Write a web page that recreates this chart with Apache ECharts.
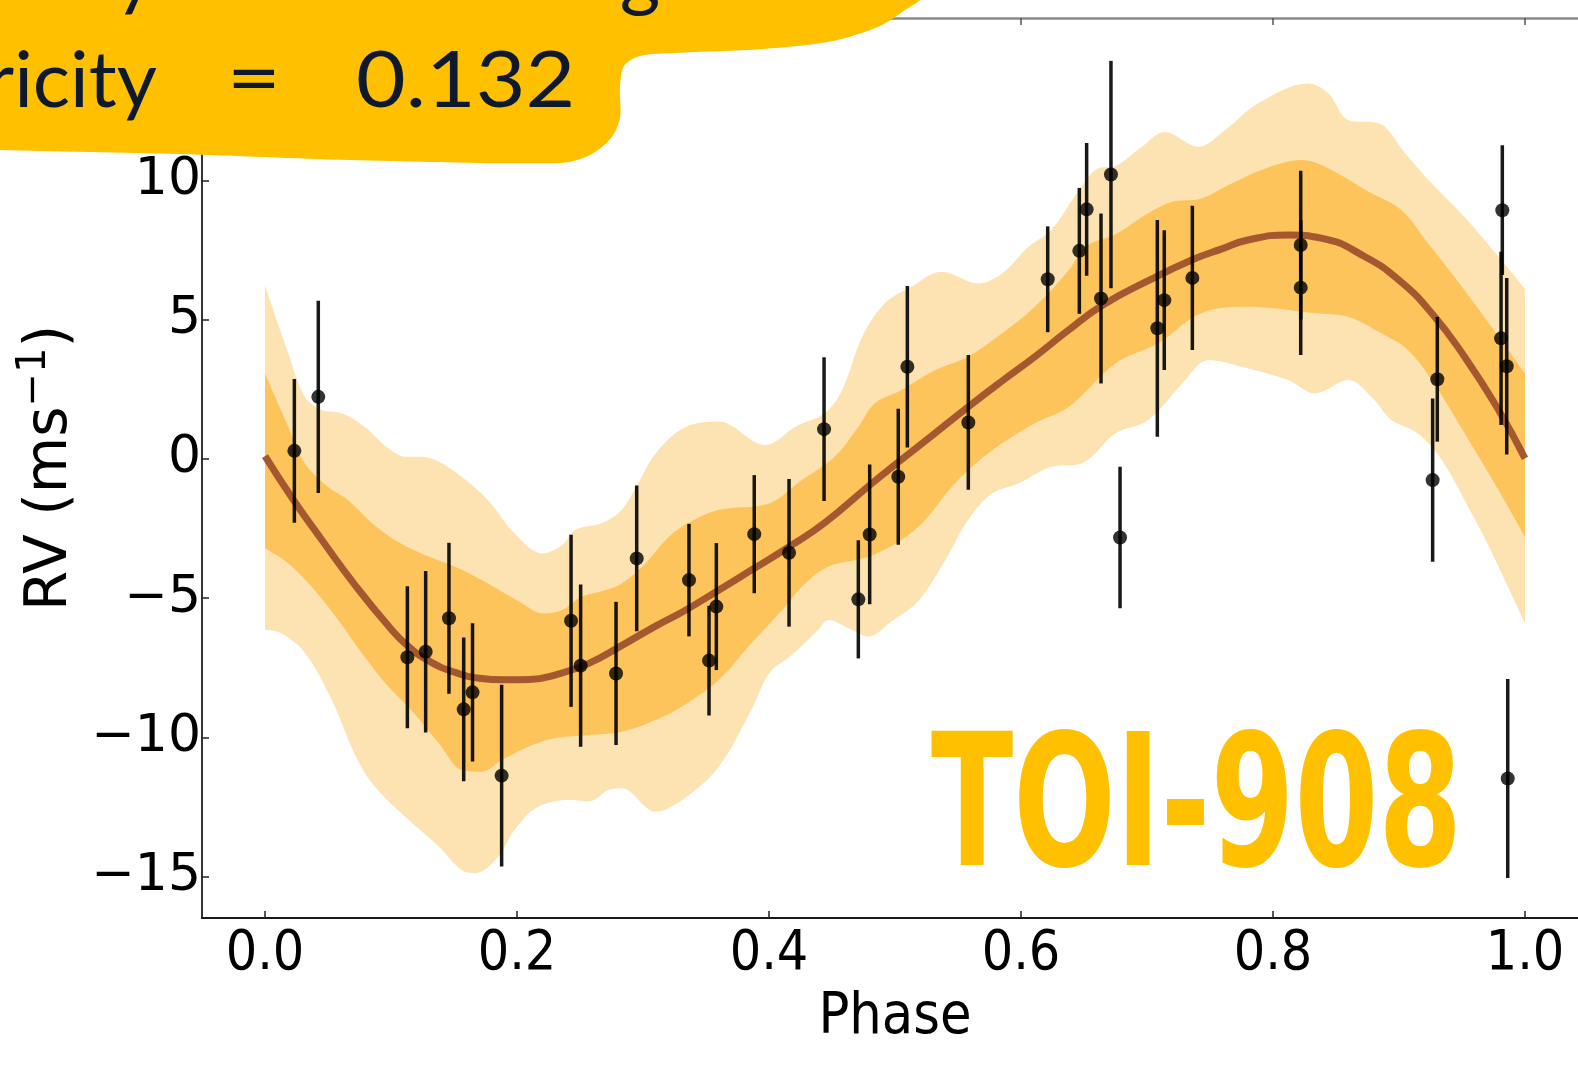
<!DOCTYPE html>
<html>
<head>
<meta charset="utf-8">
<script src="https://cdn.jsdelivr.net/npm/echarts@6/dist/echarts.min.js"></script>
<style>
html,body{margin:0;padding:0;background:#fff;overflow:hidden}
#chart{width:1578px;height:1079px}
</style>
</head>
<body>
<div id="chart"></div>
<script>
// ---------- data ----------
const phase = [0.0233,0.0423,0.113,0.1275,0.146,0.1577,0.1647,0.1878,0.2429,0.2505,0.2786,0.295,0.3365,0.3524,0.3582,0.3883,0.4159,0.4437,0.4709,0.4799,0.5026,0.5098,0.5582,0.6212,0.6463,0.6521,0.6635,0.6714,0.6786,0.7082,0.7137,0.736,0.822,0.822,0.9267,0.9304,0.982,0.981,0.9855,0.9863];
const rv = [0.29,2.23,-7.12,-6.92,-5.72,-8.99,-8.38,-11.37,-5.81,-7.42,-7.7,-3.57,-4.35,-7.24,-5.3,-2.7,-3.37,1.07,-5.04,-2.71,-0.64,3.31,1.31,6.45,7.47,8.96,5.76,10.21,-2.82,4.69,5.7,6.5,7.68,6.15,-0.76,2.86,8.93,4.33,3.33,-11.47];
const rvErr = [2.58,3.45,2.55,2.9,2.71,2.58,2.48,3.26,3.09,2.91,2.57,2.62,2.02,1.97,2.28,2.12,2.65,2.58,2.12,2.51,2.44,2.9,2.42,1.9,2.26,2.38,3.05,4.08,2.54,3.89,2.51,2.59,2.67,2.42,2.93,2.24,2.33,3.11,3.17,3.57];

const modelCurve = [[0,0.1],[0.023,-1.5],[0.045,-2.9],[0.071,-4.5],[0.098,-6.0],[0.113,-6.7],[0.13,-7.25],[0.15,-7.65],[0.17,-7.87],[0.19,-7.93],[0.21,-7.92],[0.23,-7.76],[0.257,-7.34],[0.283,-6.7],[0.31,-6.0],[0.333,-5.45],[0.36,-4.71],[0.386,-3.99],[0.416,-3.15],[0.444,-2.3],[0.48,-0.94],[0.503,-0.1],[0.53,0.86],[0.559,1.9],[0.585,2.8],[0.611,3.67],[0.637,4.6],[0.664,5.5],[0.701,6.4],[0.736,7.15],[0.76,7.55],[0.78,7.86],[0.812,8.04],[0.839,7.92],[0.873,7.26],[0.9,6.42],[0.926,5.23],[0.952,3.67],[0.979,1.76],[1.0,0.02]];

const band2Upper = [[0,6.24],[0.0185,3.79],[0.0317,2.23],[0.045,1.76],[0.061,1.64],[0.079,1.16],[0.098,0.38],[0.111,0.08],[0.124,0.08],[0.138,-0.1],[0.156,-0.64],[0.177,-1.48],[0.198,-2.67],[0.22,-3.39],[0.236,-3.09],[0.246,-2.55],[0.267,-2.31],[0.283,-1.83],[0.296,-0.88],[0.31,0.2],[0.333,1.13],[0.36,1.34],[0.397,0.5],[0.421,1.16],[0.444,1.64],[0.458,2.47],[0.474,4.39],[0.492,5.59],[0.513,6.18],[0.537,6.72],[0.566,6.3],[0.585,6.66],[0.606,7.62],[0.624,8.22],[0.646,9.65],[0.661,10.43],[0.675,10.52],[0.696,11.21],[0.714,11.74],[0.741,11.21],[0.762,11.81],[0.788,12.76],[0.828,13.48],[0.844,13.12],[0.86,12.16],[0.884,12.05],[0.905,10.97],[0.926,9.89],[0.952,8.69],[0.979,7.26],[1.0,6.1]];
const band1Upper = [[0,3.07],[0.0185,1.16],[0.0317,-0.16],[0.05,-1.0],[0.066,-1.48],[0.085,-2.31],[0.103,-2.91],[0.124,-3.39],[0.151,-3.87],[0.177,-4.47],[0.204,-5.18],[0.22,-5.54],[0.236,-5.42],[0.251,-4.95],[0.27,-4.71],[0.283,-4.47],[0.302,-3.75],[0.318,-2.91],[0.333,-2.37],[0.36,-1.83],[0.4,-1.6],[0.426,-0.76],[0.452,0.08],[0.471,1.16],[0.484,2.0],[0.505,2.47],[0.532,3.19],[0.558,3.67],[0.585,4.51],[0.611,5.46],[0.638,6.78],[0.651,7.62],[0.675,8.07],[0.701,8.82],[0.72,9.23],[0.743,9.35],[0.767,9.89],[0.794,10.43],[0.823,10.73],[0.844,10.43],[0.876,9.59],[0.902,8.93],[0.923,7.74],[0.952,6.06],[0.979,4.39],[1.0,3.07]];
const band1Lower = [[0,-3.21],[0.0185,-3.75],[0.037,-4.59],[0.058,-5.78],[0.079,-7.1],[0.098,-8.18],[0.116,-9.01],[0.138,-10.21],[0.156,-11.17],[0.172,-11.23],[0.188,-10.81],[0.209,-10.33],[0.23,-10.03],[0.257,-9.91],[0.283,-9.79],[0.31,-9.37],[0.333,-8.83],[0.36,-7.94],[0.386,-6.62],[0.413,-5.3],[0.426,-4.59],[0.447,-3.87],[0.479,-3.51],[0.505,-2.91],[0.524,-2.19],[0.545,-1.0],[0.564,-0.16],[0.585,0.56],[0.611,1.28],[0.638,1.87],[0.675,3.43],[0.709,4.15],[0.743,5.23],[0.78,5.46],[0.833,5.23],[0.86,5.1],[0.886,4.51],[0.907,3.91],[0.926,2.83],[0.952,0.92],[0.979,-1.12],[1.0,-2.8]];
const band2Lower = [[0,-6.14],[0.013,-6.26],[0.032,-6.98],[0.053,-8.65],[0.071,-10.57],[0.085,-11.64],[0.111,-12.84],[0.138,-13.92],[0.156,-14.76],[0.167,-14.87],[0.185,-14.28],[0.198,-13.32],[0.217,-12.48],[0.243,-12.24],[0.257,-12.3],[0.273,-11.88],[0.283,-11.82],[0.31,-12.66],[0.333,-12.18],[0.36,-11.05],[0.386,-9.01],[0.4,-7.7],[0.418,-7.04],[0.439,-6.14],[0.447,-5.78],[0.466,-6.14],[0.479,-6.38],[0.497,-5.84],[0.519,-5.07],[0.54,-3.63],[0.558,-2.19],[0.577,-1.24],[0.598,-0.88],[0.624,-0.28],[0.648,-0.16],[0.675,0.92],[0.701,1.4],[0.728,2.71],[0.749,3.55],[0.775,3.31],[0.812,2.83],[0.833,2.35],[0.86,2.83],[0.878,2.23],[0.894,1.4],[0.913,0.98],[0.926,0.44],[0.939,-0.4],[0.952,-1.48],[0.966,-2.67],[0.979,-3.87],[1.0,-5.9]];

const xTicks = [0, 0.2, 0.4, 0.6, 0.8, 1.0];
const yTicks = [-15, -10, -5, 0, 5, 10];
const targetName = 'TOI-908';
const eccLabel = 'Eccentricity';
const eccValue = '0.132';

// ---------- chart ----------
const LIGHT = '#FDE3B2', DARK = '#FDC45C', CURVE = '#A0522D', YEL = '#FFC000', INK = '#0E1A2B';
const chart = echarts.init(document.getElementById('chart'), null, {renderer: 'canvas'});

function bandSeries(data, color) {
  return {
    type: 'line', data: data, smooth: 0.35, symbol: 'none', silent: true,
    lineStyle: {width: 0}, areaStyle: {color: color, opacity: 1, origin: 'start'}, z: 1
  };
}
const minus = v => v < 0 ? '\u2212' + Math.abs(v) : String(v);

// decorative banner outline (screen pixels)
const bannerPts = [[-80,-80],[960,-80],[925,-5],[905,10],[880,26],[833,41],[763,49],[675,53],[640,56],[624,66],[620,88],[620,118],[611,138],[590,155],[560,163],[350,160],[180,154],[0,150],[-80,148]];

chart.setOption({
  animation: false,
  backgroundColor: '#fff',
  grid: {left: 202, top: 18, width: 1386, height: 900, outerBoundsMode: 'none'},
  xAxis: [{
    type: 'value', min: -0.05, max: 1.05, position: 'bottom', z: 10,
    splitLine: {show: false},
    axisLine: {onZero: false, lineStyle: {color: '#1a1a1a', width: 2}},
    axisTick: {inside: true, length: 7, customValues: xTicks, lineStyle: {color: '#222', width: 1.5}},
    axisLabel: {customValues: xTicks, formatter: v => v.toFixed(1), margin: 9,
      fontFamily: "'DejaVu Sans Condensed', 'DejaVu Sans'", fontSize: 55, color: '#000'},
    name: 'Phase', nameLocation: 'middle', nameGap: 72,
    nameTextStyle: {fontFamily: "'DejaVu Sans Condensed', 'DejaVu Sans'", fontSize: 57, color: '#000'}
  }, {
    type: 'value', min: -0.05, max: 1.05, position: 'top', z: 10,
    splitLine: {show: false},
    axisLine: {onZero: false, lineStyle: {color: '#8a8a8a', width: 2.5}},
    axisTick: {inside: true, length: 7, customValues: xTicks, lineStyle: {color: '#555', width: 1.5}},
    axisLabel: {show: false}
  }],
  yAxis: {
    type: 'value', min: -16.48, max: 15.83, z: 10,
    splitLine: {show: false},
    axisLine: {onZero: false, lineStyle: {color: '#333', width: 2}},
    axisTick: {inside: true, length: 7, customValues: yTicks, lineStyle: {color: '#222', width: 1.5}},
    axisLabel: {customValues: yTicks, formatter: minus, margin: 1,
      fontFamily: 'DejaVu Sans', fontSize: 52, color: '#000'},
    name: '{n|RV (ms}{s|\u22121}{n|)}', nameLocation: 'middle', nameRotate: 90, nameGap: 120,
    nameTextStyle: {rich: {
      n: {fontFamily: 'DejaVu Sans', fontSize: 58, color: '#000', verticalAlign: 'bottom'},
      s: {fontFamily: 'DejaVu Sans', fontSize: 40, color: '#000', verticalAlign: 'bottom', padding: [0, 0, 26, 0]}
    }}
  },
  series: [
    bandSeries(band2Upper, LIGHT),
    bandSeries(band1Upper, DARK),
    bandSeries(band1Lower, LIGHT),
    bandSeries(band2Lower, '#ffffff'),
    {
      type: 'line', data: modelCurve, smooth: 0.5, symbol: 'none', silent: true, z: 3,
      lineStyle: {color: CURVE, width: 7, opacity: 0.95}
    },
    {
      type: 'custom', z: 4, silent: true,
      data: phase.map((p, i) => [p, rv[i], rvErr[i]]),
      encode: {x: 0, y: 1},
      renderItem: function (params, api) {
        const x = api.value(0), y = api.value(1), e = api.value(2);
        const a = api.coord([x, y + e]), b = api.coord([x, y - e]);
        return {type: 'line', shape: {x1: a[0], y1: a[1], x2: b[0], y2: b[1]},
          style: {stroke: '#000', lineWidth: 3.5, opacity: 0.9}};
      }
    },
    {
      type: 'scatter', z: 5, silent: true, symbol: 'circle', symbolSize: 14,
      itemStyle: {color: '#000'},
      data: phase.map((p, i) => [p, rv[i]])
    }
  ],
  graphic: [
    {
      type: 'text', z: 50, x: 931, y: 817, scaleX: 0.655,
      style: {text: targetName, fontFamily: 'DejaVu Sans', fontWeight: 'bold', fontSize: 184,
        fill: YEL, textAlign: 'left', textVerticalAlign: 'middle'}
    },
    {
      type: 'polygon', z: 100,
      shape: {points: bannerPts, smooth: 0.3},
      style: {fill: YEL}
    },
    {
      type: 'text', z: 101, x: 157, y: 82,
      style: {text: eccLabel, fontFamily: 'Lato', fontSize: 78, fill: INK, textAlign: 'right', textVerticalAlign: 'middle'}
    },
    {
      type: 'text', z: 101, x: 254, y: 80, scaleX: 1.2,
      style: {text: '=', fontFamily: 'Lato', fontSize: 78, fill: INK, textAlign: 'center', textVerticalAlign: 'middle'}
    },
    {
      type: 'text', z: 101, x: 356, y: 82, scaleX: 1.1,
      style: {text: eccValue, fontFamily: 'Lato', fontSize: 78, fill: INK, textAlign: 'left', textVerticalAlign: 'middle'}
    },
    {
      type: 'text', z: 101, x: 135, y: -24,
      style: {text: 'y', fontFamily: 'Lato', fontSize: 78, fill: INK, textAlign: 'center', textVerticalAlign: 'middle'}
    },
    {
      type: 'text', z: 101, x: 640, y: -24,
      style: {text: 'g', fontFamily: 'Lato', fontSize: 78, fill: INK, textAlign: 'center', textVerticalAlign: 'middle'}
    }
  ]
});
</script>
</body>
</html>
